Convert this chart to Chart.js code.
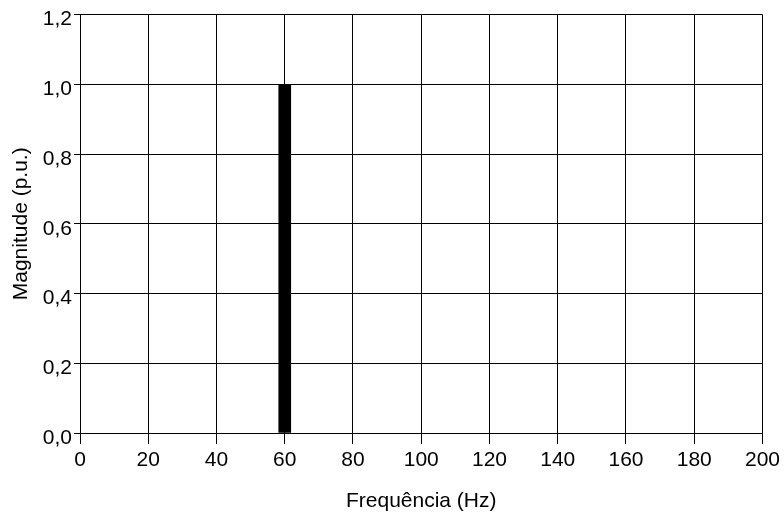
<!DOCTYPE html>
<html>
<head>
<meta charset="utf-8">
<script src="https://cdn.jsdelivr.net/npm/chart.js@4/dist/chart.umd.min.js"></script>
<style>
  html, body { margin: 0; padding: 0; background: #ffffff; }
  canvas { display: block; }
</style>
</head>
<body>
<canvas id="spectrum" width="784" height="512"></canvas>
<script>
// Harmonic spectrum: one component at the fundamental frequency
const frequencies = [60];
const magnitudes = [1.0];

// Axis ranges and tick spacing
const xMin = 0, xMax = 200, xStep = 20;
const yMin = 0, yMax = 1.2, yStep = 0.2;

const xTitle = 'Frequência (Hz)';
const yTitle = 'Magnitude (p.u.)';

const points = frequencies.map((f, i) => ({ x: f, y: magnitudes[i] }));

const fontFamily = '"Liberation Sans", Arial, sans-serif';
const tickFont = { family: fontFamily, size: 21 };

new Chart(document.getElementById('spectrum'), {
  type: 'bar',
  data: {
    datasets: [{
      data: points,
      backgroundColor: '#000000',
      borderWidth: 0,
      barThickness: 12
    }]
  },
  options: {
    responsive: false,
    animation: false,
    devicePixelRatio: 1,
    layout: { padding: { top: 14, right: 21, left: 0, bottom: 0 } },
    plugins: {
      legend: { display: false },
      tooltip: { enabled: false }
    },
    scales: {
      x: {
        type: 'linear',
        min: xMin,
        max: xMax,
        offset: false,
        grid: { offset: false, color: '#000000', lineWidth: 1, tickLength: 11, tickColor: '#000000' },
        border: { color: '#000000', width: 1 },
        ticks: {
          stepSize: xStep,
          color: '#000000',
          font: tickFont,
          padding: 4,
          maxRotation: 0,
          callback: v => String(v)
        },
        title: {
          display: true,
          text: xTitle,
          color: '#000000',
          font: tickFont,
          padding: { top: 8, bottom: -2 }
        },
        afterFit: s => { s.height = 79; }
      },
      y: {
        type: 'linear',
        min: yMin,
        max: yMax,
        grid: { color: '#000000', lineWidth: 1, tickLength: 6, tickColor: '#000000' },
        border: { color: '#000000', width: 1 },
        ticks: {
          stepSize: yStep,
          color: '#000000',
          font: tickFont,
          padding: 2,
          labelOffset: 5,
          callback: v => Number(v).toFixed(1).replace('.', ',')
        },
        title: {
          display: true,
          text: yTitle,
          color: '#000000',
          font: tickFont,
          padding: { top: 9, bottom: 0 }
        },
        afterFit: s => { s.width = 80; }
      }
    }
  }
});
</script>
</body>
</html>
